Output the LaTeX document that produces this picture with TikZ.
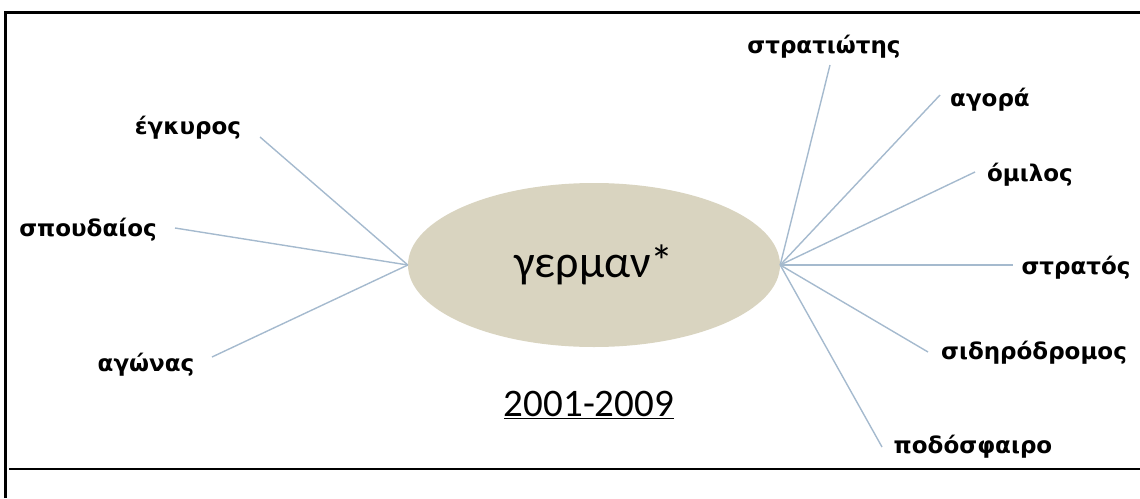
\documentclass[tikz,border=0pt]{standalone}
\usepackage{fontspec}
\setmainfont{DejaVu Sans}
\newfontfamily\corefont{Carlito}
\usetikzlibrary{shapes.geometric}

\definecolor{corefill}{RGB}{217,212,192}
\definecolor{spokeblue}{RGB}{165,186,206}

\begin{document}
\begin{tikzpicture}[x=1pt, y=-1pt,
    every node/.style={inner sep=0pt},
    core/.style={ellipse, fill=corefill, minimum width=372pt, minimum height=164pt,
                 font=\corefont\fontsize{46}{50}\selectfont},
    yr/.style={font=\corefont\fontsize{39}{44}\selectfont},
    wd/.style={font=\bfseries\fontsize{23}{27}\selectfont},
    spoke/.style={draw=spokeblue, line width=1.4pt},
  ]
  \useasboundingbox (0,0) rectangle (1140,498);
  % frame
  \draw[line width=3pt] (5.5,498) -- (5.5,12.5) -- (1140,12.5);
  \draw[line width=1.2pt] (9,469) -- (1140,469);

  \node[core] (core) at (594,265) {γερμαν*};
  \node[yr] (yr) at (589,405) {\underline{2001-2009}};

  % left words
  \node[wd] (w1) at (188,128) {έγκυρος};
  \node[wd] (w2) at (88,230) {σπουδαίος};
  \node[wd] (w3) at (146,365) {αγώνας};
  % right words
  \node[wd] (w4) at (824,47) {στρατιώτης};
  \node[wd] (w5) at (990,100) {αγορά};
  \node[wd] (w6) at (1030,175) {όμιλος};
  \node[wd] (w7) at (1076,268) {στρατός};
  \node[wd] (w8) at (1034,353) {σιδηρόδρομος};
  \node[wd] (w9) at (973,447) {ποδόσφαιρο};

  \coordinate (e1) at (260,137);
  \coordinate (e2) at (175,228);
  \coordinate (e3) at (212,357);
  \coordinate (e4) at (830,65);
  \coordinate (e5) at (940,95);
  \coordinate (e6) at (975,172);
  \coordinate (e7) at (1013,265);
  \coordinate (e8) at (928,352);
  \coordinate (e9) at (882,447);

  \foreach \i in {1,2,3}
    \draw[spoke] (core.west) -- (e\i);
  \foreach \i in {4,...,9}
    \draw[spoke] (core.east) -- (e\i);
\end{tikzpicture}
\end{document}
